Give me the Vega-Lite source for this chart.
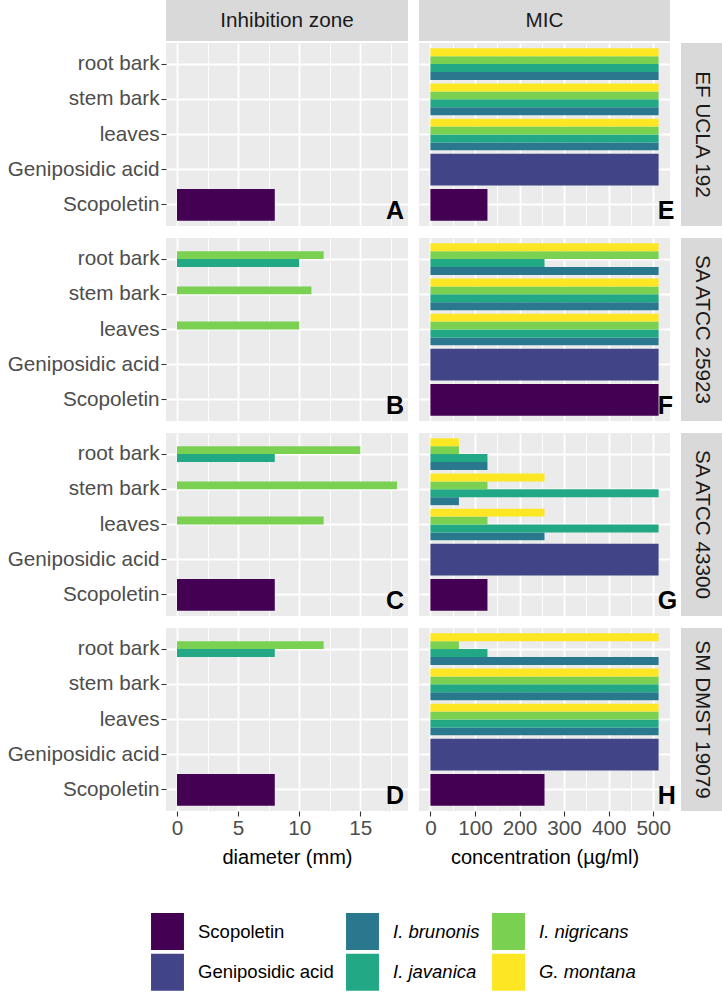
{
"$schema": "https://vega.github.io/schema/vega-lite/v6.json",
"padding": {"left": 7, "top": 0, "right": 0, "bottom": 0},
"background": "#FFFFFF",
"config": {
 "font": "Liberation Sans",
 "view": {"stroke": null},
 "concat": {"spacing": 11},
 "axis": {"domain": false, "grid": true, "gridColor": "#FFFFFF", "gridWidth": 1.8, "tickColor": "#333333", "tickSize": 5, "tickWidth": 1.1, "labelColor": "#4D4D4D", "labelFontSize": 20.7, "labelPadding": 2, "labelFlush": false, "titleFontSize": 20, "titleFontWeight": "normal", "titleColor": "#000000", "titlePadding": 10}
},
"data": {"values": [
 {"strain":"EF UCLA 192","test":"Inhibition zone","sample":"Scopoletin","source":"Scopoletin","value":8},
 {"strain":"SA ATCC 25923","test":"Inhibition zone","sample":"root bark","source":"I. javanica","value":10},
 {"strain":"SA ATCC 25923","test":"Inhibition zone","sample":"root bark","source":"I. nigricans","value":12},
 {"strain":"SA ATCC 25923","test":"Inhibition zone","sample":"stem bark","source":"I. nigricans","value":11},
 {"strain":"SA ATCC 25923","test":"Inhibition zone","sample":"leaves","source":"I. nigricans","value":10},
 {"strain":"SA ATCC 43300","test":"Inhibition zone","sample":"root bark","source":"I. javanica","value":8},
 {"strain":"SA ATCC 43300","test":"Inhibition zone","sample":"root bark","source":"I. nigricans","value":15},
 {"strain":"SA ATCC 43300","test":"Inhibition zone","sample":"stem bark","source":"I. nigricans","value":18},
 {"strain":"SA ATCC 43300","test":"Inhibition zone","sample":"leaves","source":"I. nigricans","value":12},
 {"strain":"SA ATCC 43300","test":"Inhibition zone","sample":"Scopoletin","source":"Scopoletin","value":8},
 {"strain":"SM DMST 19079","test":"Inhibition zone","sample":"root bark","source":"I. javanica","value":8},
 {"strain":"SM DMST 19079","test":"Inhibition zone","sample":"root bark","source":"I. nigricans","value":12},
 {"strain":"SM DMST 19079","test":"Inhibition zone","sample":"Scopoletin","source":"Scopoletin","value":8},

 {"strain":"EF UCLA 192","test":"MIC","sample":"root bark","source":"I. brunonis","value":512},
 {"strain":"EF UCLA 192","test":"MIC","sample":"root bark","source":"I. javanica","value":512},
 {"strain":"EF UCLA 192","test":"MIC","sample":"root bark","source":"I. nigricans","value":512},
 {"strain":"EF UCLA 192","test":"MIC","sample":"root bark","source":"G. montana","value":512},
 {"strain":"EF UCLA 192","test":"MIC","sample":"stem bark","source":"I. brunonis","value":512},
 {"strain":"EF UCLA 192","test":"MIC","sample":"stem bark","source":"I. javanica","value":512},
 {"strain":"EF UCLA 192","test":"MIC","sample":"stem bark","source":"I. nigricans","value":512},
 {"strain":"EF UCLA 192","test":"MIC","sample":"stem bark","source":"G. montana","value":512},
 {"strain":"EF UCLA 192","test":"MIC","sample":"leaves","source":"I. brunonis","value":512},
 {"strain":"EF UCLA 192","test":"MIC","sample":"leaves","source":"I. javanica","value":512},
 {"strain":"EF UCLA 192","test":"MIC","sample":"leaves","source":"I. nigricans","value":512},
 {"strain":"EF UCLA 192","test":"MIC","sample":"leaves","source":"G. montana","value":512},
 {"strain":"EF UCLA 192","test":"MIC","sample":"Geniposidic acid","source":"Geniposidic acid","value":512},
 {"strain":"EF UCLA 192","test":"MIC","sample":"Scopoletin","source":"Scopoletin","value":128},

 {"strain":"SA ATCC 25923","test":"MIC","sample":"root bark","source":"I. brunonis","value":512},
 {"strain":"SA ATCC 25923","test":"MIC","sample":"root bark","source":"I. javanica","value":256},
 {"strain":"SA ATCC 25923","test":"MIC","sample":"root bark","source":"I. nigricans","value":512},
 {"strain":"SA ATCC 25923","test":"MIC","sample":"root bark","source":"G. montana","value":512},
 {"strain":"SA ATCC 25923","test":"MIC","sample":"stem bark","source":"I. brunonis","value":512},
 {"strain":"SA ATCC 25923","test":"MIC","sample":"stem bark","source":"I. javanica","value":512},
 {"strain":"SA ATCC 25923","test":"MIC","sample":"stem bark","source":"I. nigricans","value":512},
 {"strain":"SA ATCC 25923","test":"MIC","sample":"stem bark","source":"G. montana","value":512},
 {"strain":"SA ATCC 25923","test":"MIC","sample":"leaves","source":"I. brunonis","value":512},
 {"strain":"SA ATCC 25923","test":"MIC","sample":"leaves","source":"I. javanica","value":512},
 {"strain":"SA ATCC 25923","test":"MIC","sample":"leaves","source":"I. nigricans","value":512},
 {"strain":"SA ATCC 25923","test":"MIC","sample":"leaves","source":"G. montana","value":512},
 {"strain":"SA ATCC 25923","test":"MIC","sample":"Geniposidic acid","source":"Geniposidic acid","value":512},
 {"strain":"SA ATCC 25923","test":"MIC","sample":"Scopoletin","source":"Scopoletin","value":512},

 {"strain":"SA ATCC 43300","test":"MIC","sample":"root bark","source":"I. brunonis","value":128},
 {"strain":"SA ATCC 43300","test":"MIC","sample":"root bark","source":"I. javanica","value":128},
 {"strain":"SA ATCC 43300","test":"MIC","sample":"root bark","source":"I. nigricans","value":64},
 {"strain":"SA ATCC 43300","test":"MIC","sample":"root bark","source":"G. montana","value":64},
 {"strain":"SA ATCC 43300","test":"MIC","sample":"stem bark","source":"I. brunonis","value":64},
 {"strain":"SA ATCC 43300","test":"MIC","sample":"stem bark","source":"I. javanica","value":512},
 {"strain":"SA ATCC 43300","test":"MIC","sample":"stem bark","source":"I. nigricans","value":128},
 {"strain":"SA ATCC 43300","test":"MIC","sample":"stem bark","source":"G. montana","value":256},
 {"strain":"SA ATCC 43300","test":"MIC","sample":"leaves","source":"I. brunonis","value":256},
 {"strain":"SA ATCC 43300","test":"MIC","sample":"leaves","source":"I. javanica","value":512},
 {"strain":"SA ATCC 43300","test":"MIC","sample":"leaves","source":"I. nigricans","value":128},
 {"strain":"SA ATCC 43300","test":"MIC","sample":"leaves","source":"G. montana","value":256},
 {"strain":"SA ATCC 43300","test":"MIC","sample":"Geniposidic acid","source":"Geniposidic acid","value":512},
 {"strain":"SA ATCC 43300","test":"MIC","sample":"Scopoletin","source":"Scopoletin","value":128},

 {"strain":"SM DMST 19079","test":"MIC","sample":"root bark","source":"I. brunonis","value":512},
 {"strain":"SM DMST 19079","test":"MIC","sample":"root bark","source":"I. javanica","value":128},
 {"strain":"SM DMST 19079","test":"MIC","sample":"root bark","source":"I. nigricans","value":64},
 {"strain":"SM DMST 19079","test":"MIC","sample":"root bark","source":"G. montana","value":512},
 {"strain":"SM DMST 19079","test":"MIC","sample":"stem bark","source":"I. brunonis","value":512},
 {"strain":"SM DMST 19079","test":"MIC","sample":"stem bark","source":"I. javanica","value":512},
 {"strain":"SM DMST 19079","test":"MIC","sample":"stem bark","source":"I. nigricans","value":512},
 {"strain":"SM DMST 19079","test":"MIC","sample":"stem bark","source":"G. montana","value":512},
 {"strain":"SM DMST 19079","test":"MIC","sample":"leaves","source":"I. brunonis","value":512},
 {"strain":"SM DMST 19079","test":"MIC","sample":"leaves","source":"I. javanica","value":512},
 {"strain":"SM DMST 19079","test":"MIC","sample":"leaves","source":"I. nigricans","value":512},
 {"strain":"SM DMST 19079","test":"MIC","sample":"leaves","source":"G. montana","value":512},
 {"strain":"SM DMST 19079","test":"MIC","sample":"Geniposidic acid","source":"Geniposidic acid","value":512},
 {"strain":"SM DMST 19079","test":"MIC","sample":"Scopoletin","source":"Scopoletin","value":256}
]},
"resolve": {"scale": {"color": "shared"}, "legend": {"color": "shared"}},
"bounds": "full",
"spacing": 12,
"vconcat": [
 {"bounds": "full", "spacing": 2, "vconcat": [
  {"bounds": "flush", "spacing": 11, "hconcat": [
   {"width": 242, "height": 41, "view": {"fill": "#D9D9D9", "stroke": null}, "data": {"values": [{"label": "Inhibition zone"}]}, "mark": {"type": "text", "fontSize": 20.7, "color": "#1A1A1A"}, "encoding": {"text": {"field": "label", "type": "nominal"}}},
   {"width": 251, "height": 41, "view": {"fill": "#D9D9D9", "stroke": null}, "data": {"values": [{"label": "MIC"}]}, "mark": {"type": "text", "fontSize": 20.7, "color": "#1A1A1A"}, "encoding": {"text": {"field": "label", "type": "nominal"}}}
  ]},
  {"bounds": "flush", "spacing": 11, "hconcat": [
   {"width": 242, "height": 183, "view": {"fill": "#EBEBEB", "stroke": null}, "resolve": {"axis": {"x": "independent"}}, "layer": [
    {"transform": [{"filter": "datum.strain === 'EF UCLA 192' && datum.test === 'Inhibition zone' && datum.sample !== 'Scopoletin' && datum.sample !== 'Geniposidic acid'"}], "mark": "bar", "encoding": {
     "y": {"field": "sample", "type": "nominal", "scale": {"domain": ["root bark","stem bark","leaves","Geniposidic acid","Scopoletin"], "paddingInner": 0.1, "paddingOuter": 0.15}, "axis": {"orient": "left", "title": null, "grid": true, "labels": true, "ticks": true}},
     "yOffset": {"field": "source", "type": "nominal", "scale": {"domain": ["G. montana","I. nigricans","I. javanica","I. brunonis"]}},
     "x": {"field": "value", "type": "quantitative", "scale": {"domain": [-0.9, 18.9], "nice": false}, "axis": {"orient": "bottom", "grid": true, "values": [0,5,10,15], "labels": false, "ticks": false, "title": null}},
     "color": {"field": "source", "type": "nominal", "scale": {"domain": ["Scopoletin","Geniposidic acid","I. brunonis","I. javanica","I. nigricans","G. montana"], "range": ["#440154","#414487","#2A788E","#22A884","#7AD151","#FDE725"]},
      "legend": {"title": null, "orient": "none", "legendX": -17, "legendY": 913, "padding": 0, "columns": 3, "gridAlign": "each", "columnPadding": 10, "rowPadding": 3.7, "symbolType": "M-0.89,-1H0.89V1H-0.89Z", "symbolSize": 1369, "symbolStrokeWidth": 0, "symbolOpacity": 1, "labelFontSize": 18.5, "labelColor": "#000000", "labelOffset": 12, "labelLimit": 300,
       "encode": {"labels": {"update": {"fontStyle": {"signal": "datum.label === 'Scopoletin' || datum.label === 'Geniposidic acid' ? 'normal' : 'italic'"}}}}}}
    }},
    {"transform": [{"filter": "datum.strain === 'EF UCLA 192' && datum.test === 'Inhibition zone' && (datum.sample === 'Scopoletin' || datum.sample === 'Geniposidic acid')"}], "mark": "bar", "encoding": {
     "y": {"field": "sample", "type": "nominal", "axis": {"orient": "left", "title": null, "grid": true, "labels": true, "ticks": true}},
     "x": {"field": "value", "type": "quantitative", "axis": {"orient": "top", "grid": true, "values": [2.5,7.5,12.5,17.5], "labels": false, "ticks": false, "title": null, "gridWidth": 0.9}},
     "color": {"field": "source", "type": "nominal", "legend": null}
    }},
    {"data": {"values": [{"letter": "A"}]}, "mark": {"type": "text", "fontSize": 25, "fontWeight": "bold", "align": "left", "baseline": "alphabetic", "dy": 14, "color": "#000000"}, "encoding": {"x": {"datum": 17.1, "type": "quantitative", "axis": null}, "y": {"datum": "Scopoletin", "type": "nominal", "axis": {"orient": "left", "title": null, "grid": true, "labels": true, "ticks": true}}, "text": {"field": "letter", "type": "nominal"}}}
   ]},
   {"width": 251, "height": 183, "view": {"fill": "#EBEBEB", "stroke": null}, "resolve": {"axis": {"x": "independent"}}, "layer": [
    {"transform": [{"filter": "datum.strain === 'EF UCLA 192' && datum.test === 'MIC' && datum.sample !== 'Scopoletin' && datum.sample !== 'Geniposidic acid'"}], "mark": "bar", "encoding": {
     "y": {"field": "sample", "type": "nominal", "scale": {"domain": ["root bark","stem bark","leaves","Geniposidic acid","Scopoletin"], "paddingInner": 0.1, "paddingOuter": 0.15}, "axis": {"orient": "left", "title": null, "grid": true, "labels": false, "ticks": false}},
     "yOffset": {"field": "source", "type": "nominal", "scale": {"domain": ["G. montana","I. nigricans","I. javanica","I. brunonis"]}},
     "x": {"field": "value", "type": "quantitative", "scale": {"domain": [-25.6, 537.6], "nice": false}, "axis": {"orient": "bottom", "grid": true, "values": [0,100,200,300,400,500], "labels": false, "ticks": false, "title": null}},
     "color": {"field": "source", "type": "nominal", "legend": null}
    }},
    {"transform": [{"filter": "datum.strain === 'EF UCLA 192' && datum.test === 'MIC' && (datum.sample === 'Scopoletin' || datum.sample === 'Geniposidic acid')"}], "mark": "bar", "encoding": {
     "y": {"field": "sample", "type": "nominal", "axis": {"orient": "left", "title": null, "grid": true, "labels": false, "ticks": false}},
     "x": {"field": "value", "type": "quantitative", "axis": {"orient": "top", "grid": true, "values": [50,150,250,350,450], "labels": false, "ticks": false, "title": null, "gridWidth": 0.9}},
     "color": {"field": "source", "type": "nominal", "legend": null}
    }},
    {"data": {"values": [{"letter": "E"}]}, "mark": {"type": "text", "fontSize": 25, "fontWeight": "bold", "align": "left", "baseline": "alphabetic", "dy": 14, "color": "#000000"}, "encoding": {"x": {"datum": 510, "type": "quantitative", "axis": null}, "y": {"datum": "Scopoletin", "type": "nominal", "axis": {"orient": "left", "title": null, "grid": true, "labels": false, "ticks": false}}, "text": {"field": "letter", "type": "nominal"}}}
   ]},
   {"width": 41, "height": 183, "view": {"fill": "#D9D9D9", "stroke": null}, "data": {"values": [{"label": "EF UCLA 192"}]}, "mark": {"type": "text", "angle": 90, "fontSize": 20.7, "color": "#1A1A1A"}, "encoding": {"text": {"field": "label", "type": "nominal"}}}
  ]}
 ]},
 {"bounds": "flush", "spacing": 11, "hconcat": [
  {"width": 242, "height": 183, "view": {"fill": "#EBEBEB", "stroke": null}, "resolve": {"axis": {"x": "independent"}}, "layer": [
   {"transform": [{"filter": "datum.strain === 'SA ATCC 25923' && datum.test === 'Inhibition zone' && datum.sample !== 'Scopoletin' && datum.sample !== 'Geniposidic acid'"}], "mark": "bar", "encoding": {
    "y": {"field": "sample", "type": "nominal", "scale": {"domain": ["root bark","stem bark","leaves","Geniposidic acid","Scopoletin"], "paddingInner": 0.1, "paddingOuter": 0.15}, "axis": {"orient": "left", "title": null, "grid": true, "labels": true, "ticks": true}},
    "yOffset": {"field": "source", "type": "nominal", "scale": {"domain": ["G. montana","I. nigricans","I. javanica","I. brunonis"]}},
    "x": {"field": "value", "type": "quantitative", "scale": {"domain": [-0.9, 18.9], "nice": false}, "axis": {"orient": "bottom", "grid": true, "values": [0,5,10,15], "labels": false, "ticks": false, "title": null}},
    "color": {"field": "source", "type": "nominal", "legend": null}
   }},
   {"transform": [{"filter": "datum.strain === 'SA ATCC 25923' && datum.test === 'Inhibition zone' && (datum.sample === 'Scopoletin' || datum.sample === 'Geniposidic acid')"}], "mark": "bar", "encoding": {
    "y": {"field": "sample", "type": "nominal", "axis": {"orient": "left", "title": null, "grid": true, "labels": true, "ticks": true}},
    "x": {"field": "value", "type": "quantitative", "axis": {"orient": "top", "grid": true, "values": [2.5,7.5,12.5,17.5], "labels": false, "ticks": false, "title": null, "gridWidth": 0.9}},
    "color": {"field": "source", "type": "nominal", "legend": null}
   }},
   {"data": {"values": [{"letter": "B"}]}, "mark": {"type": "text", "fontSize": 25, "fontWeight": "bold", "align": "left", "baseline": "alphabetic", "dy": 14, "color": "#000000"}, "encoding": {"x": {"datum": 17.1, "type": "quantitative", "axis": null}, "y": {"datum": "Scopoletin", "type": "nominal", "axis": {"orient": "left", "title": null, "grid": true, "labels": true, "ticks": true}}, "text": {"field": "letter", "type": "nominal"}}}
  ]},
  {"width": 251, "height": 183, "view": {"fill": "#EBEBEB", "stroke": null}, "resolve": {"axis": {"x": "independent"}}, "layer": [
   {"transform": [{"filter": "datum.strain === 'SA ATCC 25923' && datum.test === 'MIC' && datum.sample !== 'Scopoletin' && datum.sample !== 'Geniposidic acid'"}], "mark": "bar", "encoding": {
    "y": {"field": "sample", "type": "nominal", "scale": {"domain": ["root bark","stem bark","leaves","Geniposidic acid","Scopoletin"], "paddingInner": 0.1, "paddingOuter": 0.15}, "axis": {"orient": "left", "title": null, "grid": true, "labels": false, "ticks": false}},
    "yOffset": {"field": "source", "type": "nominal", "scale": {"domain": ["G. montana","I. nigricans","I. javanica","I. brunonis"]}},
    "x": {"field": "value", "type": "quantitative", "scale": {"domain": [-25.6, 537.6], "nice": false}, "axis": {"orient": "bottom", "grid": true, "values": [0,100,200,300,400,500], "labels": false, "ticks": false, "title": null}},
    "color": {"field": "source", "type": "nominal", "legend": null}
   }},
   {"transform": [{"filter": "datum.strain === 'SA ATCC 25923' && datum.test === 'MIC' && (datum.sample === 'Scopoletin' || datum.sample === 'Geniposidic acid')"}], "mark": "bar", "encoding": {
    "y": {"field": "sample", "type": "nominal", "axis": {"orient": "left", "title": null, "grid": true, "labels": false, "ticks": false}},
    "x": {"field": "value", "type": "quantitative", "axis": {"orient": "top", "grid": true, "values": [50,150,250,350,450], "labels": false, "ticks": false, "title": null, "gridWidth": 0.9}},
    "color": {"field": "source", "type": "nominal", "legend": null}
   }},
   {"data": {"values": [{"letter": "F"}]}, "mark": {"type": "text", "fontSize": 25, "fontWeight": "bold", "align": "left", "baseline": "alphabetic", "dy": 14, "color": "#000000"}, "encoding": {"x": {"datum": 510, "type": "quantitative", "axis": null}, "y": {"datum": "Scopoletin", "type": "nominal", "axis": {"orient": "left", "title": null, "grid": true, "labels": false, "ticks": false}}, "text": {"field": "letter", "type": "nominal"}}}
  ]},
  {"width": 41, "height": 183, "view": {"fill": "#D9D9D9", "stroke": null}, "data": {"values": [{"label": "SA ATCC 25923"}]}, "mark": {"type": "text", "angle": 90, "fontSize": 20.7, "color": "#1A1A1A"}, "encoding": {"text": {"field": "label", "type": "nominal"}}}
 ]},
 {"bounds": "flush", "spacing": 11, "hconcat": [
  {"width": 242, "height": 183, "view": {"fill": "#EBEBEB", "stroke": null}, "resolve": {"axis": {"x": "independent"}}, "layer": [
   {"transform": [{"filter": "datum.strain === 'SA ATCC 43300' && datum.test === 'Inhibition zone' && datum.sample !== 'Scopoletin' && datum.sample !== 'Geniposidic acid'"}], "mark": "bar", "encoding": {
    "y": {"field": "sample", "type": "nominal", "scale": {"domain": ["root bark","stem bark","leaves","Geniposidic acid","Scopoletin"], "paddingInner": 0.1, "paddingOuter": 0.15}, "axis": {"orient": "left", "title": null, "grid": true, "labels": true, "ticks": true}},
    "yOffset": {"field": "source", "type": "nominal", "scale": {"domain": ["G. montana","I. nigricans","I. javanica","I. brunonis"]}},
    "x": {"field": "value", "type": "quantitative", "scale": {"domain": [-0.9, 18.9], "nice": false}, "axis": {"orient": "bottom", "grid": true, "values": [0,5,10,15], "labels": false, "ticks": false, "title": null}},
    "color": {"field": "source", "type": "nominal", "legend": null}
   }},
   {"transform": [{"filter": "datum.strain === 'SA ATCC 43300' && datum.test === 'Inhibition zone' && (datum.sample === 'Scopoletin' || datum.sample === 'Geniposidic acid')"}], "mark": "bar", "encoding": {
    "y": {"field": "sample", "type": "nominal", "axis": {"orient": "left", "title": null, "grid": true, "labels": true, "ticks": true}},
    "x": {"field": "value", "type": "quantitative", "axis": {"orient": "top", "grid": true, "values": [2.5,7.5,12.5,17.5], "labels": false, "ticks": false, "title": null, "gridWidth": 0.9}},
    "color": {"field": "source", "type": "nominal", "legend": null}
   }},
   {"data": {"values": [{"letter": "C"}]}, "mark": {"type": "text", "fontSize": 25, "fontWeight": "bold", "align": "left", "baseline": "alphabetic", "dy": 14, "color": "#000000"}, "encoding": {"x": {"datum": 17.1, "type": "quantitative", "axis": null}, "y": {"datum": "Scopoletin", "type": "nominal", "axis": {"orient": "left", "title": null, "grid": true, "labels": true, "ticks": true}}, "text": {"field": "letter", "type": "nominal"}}}
  ]},
  {"width": 251, "height": 183, "view": {"fill": "#EBEBEB", "stroke": null}, "resolve": {"axis": {"x": "independent"}}, "layer": [
   {"transform": [{"filter": "datum.strain === 'SA ATCC 43300' && datum.test === 'MIC' && datum.sample !== 'Scopoletin' && datum.sample !== 'Geniposidic acid'"}], "mark": "bar", "encoding": {
    "y": {"field": "sample", "type": "nominal", "scale": {"domain": ["root bark","stem bark","leaves","Geniposidic acid","Scopoletin"], "paddingInner": 0.1, "paddingOuter": 0.15}, "axis": {"orient": "left", "title": null, "grid": true, "labels": false, "ticks": false}},
    "yOffset": {"field": "source", "type": "nominal", "scale": {"domain": ["G. montana","I. nigricans","I. javanica","I. brunonis"]}},
    "x": {"field": "value", "type": "quantitative", "scale": {"domain": [-25.6, 537.6], "nice": false}, "axis": {"orient": "bottom", "grid": true, "values": [0,100,200,300,400,500], "labels": false, "ticks": false, "title": null}},
    "color": {"field": "source", "type": "nominal", "legend": null}
   }},
   {"transform": [{"filter": "datum.strain === 'SA ATCC 43300' && datum.test === 'MIC' && (datum.sample === 'Scopoletin' || datum.sample === 'Geniposidic acid')"}], "mark": "bar", "encoding": {
    "y": {"field": "sample", "type": "nominal", "axis": {"orient": "left", "title": null, "grid": true, "labels": false, "ticks": false}},
    "x": {"field": "value", "type": "quantitative", "axis": {"orient": "top", "grid": true, "values": [50,150,250,350,450], "labels": false, "ticks": false, "title": null, "gridWidth": 0.9}},
    "color": {"field": "source", "type": "nominal", "legend": null}
   }},
   {"data": {"values": [{"letter": "G"}]}, "mark": {"type": "text", "fontSize": 25, "fontWeight": "bold", "align": "left", "baseline": "alphabetic", "dy": 14, "color": "#000000"}, "encoding": {"x": {"datum": 510, "type": "quantitative", "axis": null}, "y": {"datum": "Scopoletin", "type": "nominal", "axis": {"orient": "left", "title": null, "grid": true, "labels": false, "ticks": false}}, "text": {"field": "letter", "type": "nominal"}}}
  ]},
  {"width": 41, "height": 183, "view": {"fill": "#D9D9D9", "stroke": null}, "data": {"values": [{"label": "SA ATCC 43300"}]}, "mark": {"type": "text", "angle": 90, "fontSize": 20.7, "color": "#1A1A1A"}, "encoding": {"text": {"field": "label", "type": "nominal"}}}
 ]},
 {"bounds": "flush", "spacing": 11, "hconcat": [
  {"width": 242, "height": 183, "view": {"fill": "#EBEBEB", "stroke": null}, "resolve": {"axis": {"x": "independent"}}, "layer": [
   {"transform": [{"filter": "datum.strain === 'SM DMST 19079' && datum.test === 'Inhibition zone' && datum.sample !== 'Scopoletin' && datum.sample !== 'Geniposidic acid'"}], "mark": "bar", "encoding": {
    "y": {"field": "sample", "type": "nominal", "scale": {"domain": ["root bark","stem bark","leaves","Geniposidic acid","Scopoletin"], "paddingInner": 0.1, "paddingOuter": 0.15}, "axis": {"orient": "left", "title": null, "grid": true, "labels": true, "ticks": true}},
    "yOffset": {"field": "source", "type": "nominal", "scale": {"domain": ["G. montana","I. nigricans","I. javanica","I. brunonis"]}},
    "x": {"field": "value", "type": "quantitative", "scale": {"domain": [-0.9, 18.9], "nice": false}, "axis": {"orient": "bottom", "grid": true, "values": [0,5,10,15], "title": "diameter (mm)"}},
    "color": {"field": "source", "type": "nominal", "legend": null}
   }},
   {"transform": [{"filter": "datum.strain === 'SM DMST 19079' && datum.test === 'Inhibition zone' && (datum.sample === 'Scopoletin' || datum.sample === 'Geniposidic acid')"}], "mark": "bar", "encoding": {
    "y": {"field": "sample", "type": "nominal", "axis": {"orient": "left", "title": null, "grid": true, "labels": true, "ticks": true}},
    "x": {"field": "value", "type": "quantitative", "axis": {"orient": "top", "grid": true, "values": [2.5,7.5,12.5,17.5], "labels": false, "ticks": false, "title": null, "gridWidth": 0.9}},
    "color": {"field": "source", "type": "nominal", "legend": null}
   }},
   {"data": {"values": [{"letter": "D"}]}, "mark": {"type": "text", "fontSize": 25, "fontWeight": "bold", "align": "left", "baseline": "alphabetic", "dy": 14, "color": "#000000"}, "encoding": {"x": {"datum": 17.1, "type": "quantitative", "axis": null}, "y": {"datum": "Scopoletin", "type": "nominal", "axis": {"orient": "left", "title": null, "grid": true, "labels": true, "ticks": true}}, "text": {"field": "letter", "type": "nominal"}}}
  ]},
  {"width": 251, "height": 183, "view": {"fill": "#EBEBEB", "stroke": null}, "resolve": {"axis": {"x": "independent"}}, "layer": [
   {"transform": [{"filter": "datum.strain === 'SM DMST 19079' && datum.test === 'MIC' && datum.sample !== 'Scopoletin' && datum.sample !== 'Geniposidic acid'"}], "mark": "bar", "encoding": {
    "y": {"field": "sample", "type": "nominal", "scale": {"domain": ["root bark","stem bark","leaves","Geniposidic acid","Scopoletin"], "paddingInner": 0.1, "paddingOuter": 0.15}, "axis": {"orient": "left", "title": null, "grid": true, "labels": false, "ticks": false}},
    "yOffset": {"field": "source", "type": "nominal", "scale": {"domain": ["G. montana","I. nigricans","I. javanica","I. brunonis"]}},
    "x": {"field": "value", "type": "quantitative", "scale": {"domain": [-25.6, 537.6], "nice": false}, "axis": {"orient": "bottom", "grid": true, "values": [0,100,200,300,400,500], "title": "concentration (µg/ml)"}},
    "color": {"field": "source", "type": "nominal", "legend": null}
   }},
   {"transform": [{"filter": "datum.strain === 'SM DMST 19079' && datum.test === 'MIC' && (datum.sample === 'Scopoletin' || datum.sample === 'Geniposidic acid')"}], "mark": "bar", "encoding": {
    "y": {"field": "sample", "type": "nominal", "axis": {"orient": "left", "title": null, "grid": true, "labels": false, "ticks": false}},
    "x": {"field": "value", "type": "quantitative", "axis": {"orient": "top", "grid": true, "values": [50,150,250,350,450], "labels": false, "ticks": false, "title": null, "gridWidth": 0.9}},
    "color": {"field": "source", "type": "nominal", "legend": null}
   }},
   {"data": {"values": [{"letter": "H"}]}, "mark": {"type": "text", "fontSize": 25, "fontWeight": "bold", "align": "left", "baseline": "alphabetic", "dy": 14, "color": "#000000"}, "encoding": {"x": {"datum": 510, "type": "quantitative", "axis": null}, "y": {"datum": "Scopoletin", "type": "nominal", "axis": {"orient": "left", "title": null, "grid": true, "labels": false, "ticks": false}}, "text": {"field": "letter", "type": "nominal"}}}
  ]},
  {"width": 41, "height": 183, "view": {"fill": "#D9D9D9", "stroke": null}, "data": {"values": [{"label": "SM DMST 19079"}]}, "mark": {"type": "text", "angle": 90, "fontSize": 20.7, "color": "#1A1A1A"}, "encoding": {"text": {"field": "label", "type": "nominal"}}}
 ]}
]
}
